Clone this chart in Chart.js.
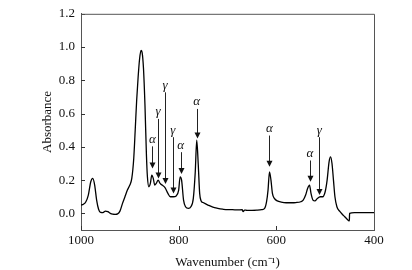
<!DOCTYPE html>
<html>
<head>
  <title>IR absorbance spectrum</title>
  <script src="https://cdn.jsdelivr.net/npm/chart.js"></script>
  <style>
    body {
      margin: 0;
      background: #fff;
    }
    #wrap {
      width: 412px;
      height: 270px;
    }
  </style>
</head>
<body>
  <div id="wrap"><canvas id="spectrum"></canvas></div>

  <script>
    // spectrum (wavenumber in cm-1, absorbance)
    const wavenumber = [
      1000, 995, 990, 985, 980, 976, 972, 968, 964, 960, 955, 950, 945, 940, 935, 930, 925, 920, 915, 910,
      905, 900, 896, 892, 889, 886, 883, 880, 877, 875, 872, 869, 866, 864, 861, 858, 855, 852, 849, 846,
      842, 838, 834, 828, 822, 817, 811, 805, 800, 797, 794, 790, 786, 780, 775, 770, 766, 763, 760, 757,
      754, 750, 740, 730, 720, 710, 700, 690, 680, 670, 668, 665, 660, 650, 640, 630, 624, 620, 617, 614,
      611, 608, 604, 598, 590, 580, 570, 560, 550, 545, 540, 536, 532, 529, 525, 521, 516, 510, 505, 500,
      496, 492, 489, 486, 483, 480, 476, 470, 465, 460, 455, 451, 450.5, 450, 440, 400
    ];
    const absorbance = [
      0.05, 0.055, 0.07, 0.11, 0.19, 0.21, 0.17, 0.08, 0.025, 0.006, 0.005, 0.014, 0.01, 0.0, -0.005, -0.006, -0.003, 0.015, 0.06, 0.1,
      0.14, 0.17, 0.21, 0.33, 0.5, 0.68, 0.82, 0.93, 0.98, 0.97, 0.87, 0.65, 0.35, 0.22, 0.16, 0.18, 0.23, 0.21, 0.17, 0.18,
      0.2, 0.18, 0.17, 0.155, 0.12, 0.1, 0.1, 0.105, 0.14, 0.22, 0.2, 0.08, 0.04, 0.03, 0.04, 0.09, 0.25, 0.44, 0.3, 0.12,
      0.075, 0.065, 0.05, 0.037, 0.03, 0.025, 0.022, 0.022, 0.021, 0.022, 0.01, 0.02, 0.018, 0.018, 0.019, 0.022, 0.03, 0.07, 0.14, 0.25,
      0.2, 0.12, 0.09, 0.075, 0.068, 0.064, 0.064, 0.065, 0.07, 0.08, 0.11, 0.15, 0.17, 0.12, 0.08, 0.075, 0.09, 0.1, 0.1, 0.13,
      0.2, 0.31, 0.34, 0.3, 0.2, 0.1, 0.04, 0.012, -0.005, -0.02, -0.035, -0.045, -0.045, 0.0, 0.005, 0.005
    ];

    // band markers: label, wavenumber, label height, arrow tip height
    const markLabels = ["α", "γ", "γ", "γ", "α", "α", "α", "α", "γ"];
    const markWave = [854, 842, 828, 812, 796, 763, 614, 531, 512];
    const markTop = [0.445, 0.61, 0.77, 0.5, 0.41, 0.67, 0.51, 0.36, 0.5];
    const markTip = [0.27, 0.21, 0.176, 0.12, 0.236, 0.45, 0.28, 0.19, 0.11];

    const xTicks = [1000, 800, 600, 400];
    const yTicks = [0.0, 0.2, 0.4, 0.6, 0.8, 1.0, 1.2];

    const serif = "'Times New Roman', 'Liberation Serif', serif";

    // inward tick marks + arrows with greek labels
    const marksPlugin = {
      id: "marks",
      afterDatasetsDraw(chart) {
        const ctx = chart.ctx;
        const xs = chart.scales.x;
        const ys = chart.scales.y;
        const area = chart.chartArea;
        ctx.save();
        ctx.strokeStyle = "#333";
        ctx.lineWidth = 1;
        ctx.beginPath();
        xTicks.forEach(v => {
          const px = Math.round(xs.getPixelForValue(v)) + 0.5;
          ctx.moveTo(px, area.bottom);
          ctx.lineTo(px, area.bottom - 4);
        });
        yTicks.forEach(v => {
          const py = Math.round(ys.getPixelForValue(v)) + 0.5;
          ctx.moveTo(area.left, py);
          ctx.lineTo(area.left + 4, py);
        });
        ctx.stroke();

        ctx.fillStyle = "#111";
        ctx.strokeStyle = "#222";
        ctx.font = "italic 13px " + serif;
        ctx.textAlign = "center";
        ctx.textBaseline = "middle";
        markLabels.forEach((lab, i) => {
          const px = xs.getPixelForValue(markWave[i]);
          const top = ys.getPixelForValue(markTop[i]);
          const tip = ys.getPixelForValue(markTip[i]);
          ctx.fillText(lab, px, top);
          const x0 = Math.round(px) + 0.5;
          ctx.beginPath();
          ctx.moveTo(x0, top + 7);
          ctx.lineTo(x0, tip - 5);
          ctx.stroke();
          ctx.beginPath();
          ctx.moveTo(x0 - 3, tip - 6);
          ctx.lineTo(x0 + 3, tip - 6);
          ctx.lineTo(x0, tip);
          ctx.closePath();
          ctx.fill();
        });
        ctx.restore();
      }
    };

    const points = wavenumber.map((w, i) => ({ x: w, y: absorbance[i] }));

    new Chart(document.getElementById("spectrum"), {
      type: "line",
      data: {
        datasets: [{
          data: points,
          borderColor: "#000",
          borderWidth: 1.3,
          pointRadius: 0,
          cubicInterpolationMode: "monotone",
          fill: false
        }]
      },
      options: {
        responsive: true,
        maintainAspectRatio: false,
        animation: false,
        layout: { padding: { top: 13, right: 38, left: 40, bottom: 0 } },
        plugins: {
          legend: { display: false },
          tooltip: { enabled: false }
        },
        scales: {
          x: {
            type: "linear",
            reverse: true,
            min: 400,
            max: 1000,
            afterBuildTicks: s => { s.ticks = xTicks.map(v => ({ value: v })); },
            afterFit: s => { s.height = 40; },
            grid: { display: false, drawTicks: false },
            border: { display: true, color: "#555", width: 1 },
            ticks: {
              color: "#111",
              font: { family: serif, size: 13 },
              padding: 3,
              maxRotation: 0,
              callback: v => v
            },
            title: {
              display: true,
              text: "Wavenumber (cm⁻¹)",
              color: "#111",
              font: { family: serif, size: 13 },
              padding: { top: 2, bottom: 0 }
            }
          },
          y: {
            min: -0.1,
            max: 1.2,
            afterBuildTicks: s => { s.ticks = yTicks.map(v => ({ value: v })); },
            afterFit: s => { s.width = 41; },
            grid: { display: false, drawTicks: false },
            border: { display: true, color: "#555", width: 1 },
            ticks: {
              color: "#111",
              font: { family: serif, size: 13 },
              padding: 6,
              callback: v => Number(v).toFixed(1)
            },
            title: {
              display: true,
              text: "Absorbance",
              color: "#111",
              font: { family: serif, size: 13 },
              padding: { top: 0, bottom: 4 }
            }
          }
        }
      },
      plugins: [marksPlugin, {
        id: "frame",
        afterDraw(chart) {
          const a = chart.chartArea;
          const ctx = chart.ctx;
          ctx.save();
          ctx.strokeStyle = "#555";
          ctx.lineWidth = 1;
          ctx.beginPath();
          ctx.moveTo(a.left, a.top + 0.5);
          ctx.lineTo(a.right + 0.5, a.top + 0.5);
          ctx.lineTo(a.right + 0.5, a.bottom);
          ctx.stroke();
          ctx.restore();
        }
      }]
    });
  </script>
</body>
</html>
